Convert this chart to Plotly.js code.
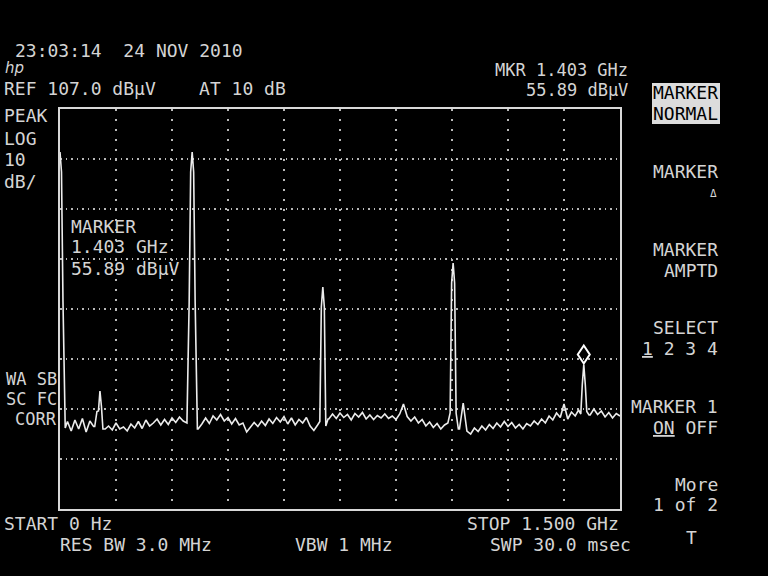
<!DOCTYPE html>
<html><head><meta charset="utf-8">
<script src="https://cdn.plot.ly/plotly-3.0.1.min.js"></script>
<style>html,body{margin:0;padding:0;background:#000;} #chart{width:768px;height:576px;}</style>
</head><body><div id="chart"></div>
<script>
// ---- sweep settings ----
const startGHz = 0.0;
const stopGHz = 1.5;
const refLevel = 107.0;
const dbPerDiv = 10;
const vertDivs = 8;
const horzDivs = 10;
const noiseStepMHz = 10;
// noise floor read every 10 MHz (dBuV)
const noiseLevels = [
  44.0, 43.2, 44.5, 42.6, 44.8, 43.0, 45.1, 42.4, 44.6, 43.5,
  46.5, 47.5, 43.0,
  43.6, 42.8, 44.2, 43.0, 43.4, 42.6, 44.0, 43.2, 44.5, 43.1, 44.8, 43.6, 44.2, 45.0, 43.8, 44.9, 43.9, 45.2, 44.3, 45.4, 44.6,
  44.2, 44.5, 43.9, 43.0,
  44.0, 45.2, 44.1, 45.6, 44.8, 45.9, 44.6, 45.3, 44.0, 45.1, 43.8, 44.2, 42.4, 43.4, 44.3, 43.5,
  44.6, 43.7, 45.0, 44.1, 45.3, 44.4, 45.5, 44.0, 45.2, 43.8, 44.9, 44.2, 45.3, 43.6, 42.7, 43.8,
  44.5, 43.6,
  45.0, 46.0, 45.1, 46.2, 45.3, 45.9, 44.8, 46.1, 45.4, 46.3, 45.0, 45.8, 44.9, 45.7, 45.2, 46.0, 45.1, 45.6, 44.9,
  46.0, 48.0, 45.5, 44.6, 45.4, 44.2, 44.9, 43.6, 44.4, 43.3, 44.1, 43.0, 43.8, 44.2,
  44.0,
  42.4, 43.0, 48.2, 42.6, 42.0,
  43.2, 42.5, 43.6, 42.8, 43.9, 43.1, 44.2, 43.4, 44.5, 43.5, 44.3, 43.2, 43.9, 43.0, 44.1, 43.6, 44.6, 43.9, 45.0, 44.2,
  45.6, 44.8, 46.2, 45.3, 48.0, 45.0, 46.4, 45.6, 46.8,
  46.0,
  46.5, 45.8, 47.0, 45.9, 46.6, 45.4, 46.3, 45.2, 46.1, 45.6
];
// signals (GHz, dBuV)
const peakFreqGHz = [0.000, 0.107, 0.354, 0.704, 1.053, 1.403];
const peakLevels  = [98.4, 50.6, 98.4, 71.4, 76.2, 55.89];
// filter skirt shape (offset MHz, drop dB)
const skirtOffsetMHz = [-14, -8, -4, 0, 4, 8, 14];
const skirtDropDb    = [60, 30, 4, 0, 4, 30, 60];
// marker
const markerFreqGHz = [1.403];
const markerLevel = [55.89];

// ---- build trace ----
const pts = [];
noiseLevels.forEach((v, i) => {
  const f = startGHz * 1000 + i * noiseStepMHz;
  if (peakFreqGHz.some(p => Math.abs(p * 1000 - f) <= 14)) return;
  pts.push([f, v]);
});
peakFreqGHz.forEach((p, k) => {
  const fp = p * 1000;
  skirtOffsetMHz.forEach((o, j) => {
    const f = fp + o;
    if (f < startGHz * 1000 || f > stopGHz * 1000) return;
    const ni = Math.min(noiseLevels.length - 1, Math.max(0, Math.round(f / noiseStepMHz)));
    pts.push([f, Math.max(peakLevels[k] - skirtDropDb[j], noiseLevels[ni])]);
  });
});
pts.sort((a, b) => a[0] - b[0]);
const traceX = pts.map(p => p[0] / 1000);
const traceY = pts.map(p => p[1]);

const bottomLevel = refLevel - dbPerDiv * vertDivs;
const FG = '#d4d4d4';
const FONT = 'DejaVu Sans Mono';

// pixel -> paper helpers for screen annotations
const L = 60, R = 620, TOP = 109, BOT = 509;
const px = x => (x - L) / (R - L);
const py = y => (BOT - y) / (BOT - TOP);
function T(text, x, y, anchor, extra) {
  return Object.assign({
    xref: 'paper', yref: 'paper', x: px(x), y: py(y),
    xanchor: anchor, yanchor: 'middle', text: text, showarrow: false,
    font: { family: FONT, size: 18, color: FG }
  }, extra || {});
}
const F17 = { font: { family: FONT, size: 17, color: FG } };

const mkF = markerFreqGHz[0].toFixed(3) + ' GHz';
const mkL = markerLevel[0].toFixed(2) + ' dBµV';

const annotations = [
  T('23:03:14  24 NOV 2010', 13, 50, 'left'),
  T('<i>hp</i>', 3, 68, 'left', { font: { family: 'DejaVu Sans', size: 15, color: FG } }),
  T('REF ' + refLevel.toFixed(1) + ' dBµV    AT 10 dB', 2, 89, 'left'),
  T('MKR ' + mkF, 630, 70, 'right', F17),
  T(mkL, 630, 90, 'right', F17),
  T('MARKER', 720, 93, 'right', { font: { family: FONT, size: 18, color: '#000' } }),
  T('NORMAL', 720, 114, 'right', { font: { family: FONT, size: 18, color: '#000' } }),
  T('PEAK', 2, 116, 'left'),
  T('LOG', 2, 138, 'left'),
  T(String(dbPerDiv), 2, 160, 'left'),
  T('dB/', 2, 181, 'left'),
  T('WA SB', 59, 379, 'right', F17),
  T('SC FC', 59, 399, 'right', F17),
  T('CORR', 59, 419, 'right', F17),
  T('MARKER', 69, 226, 'left'),
  T(mkF, 69, 246, 'left'),
  T(mkL, 69, 268, 'left'),
  T('MARKER', 720, 171, 'right'),
  T('Δ', 719, 193, 'right', { font: { family: FONT, size: 11, color: FG } }),
  T('MARKER', 720, 249, 'right'),
  T('AMPTD', 720, 270, 'right'),
  T('SELECT', 720, 327, 'right'),
  T('<u>1</u> 2 3 4', 720, 348, 'right'),
  T('MARKER 1', 720, 406, 'right'),
  T('<u>ON</u> OFF', 720, 427, 'right'),
  T('More', 720, 484, 'right'),
  T('1 of 2', 720, 504, 'right'),
  T('START 0 Hz', 2, 523, 'left'),
  T('STOP ' + stopGHz.toFixed(3) + ' GHz', 621, 523, 'right'),
  T('RES BW 3.0 MHz', 58, 544, 'left'),
  T('VBW 1 MHz', 293, 544, 'left'),
  T('SWP 30.0 msec', 633, 544, 'right'),
  T('T', 691, 537, 'center')
];

const shapes = [
  // black readout area (hides graticule only)
  { type: 'rect', xref: 'paper', yref: 'paper', x0: px(63), x1: px(336), y0: py(290), y1: py(211),
    fillcolor: '#000', line: { width: 0 }, layer: 'between' },
  // inverted softkey
  { type: 'rect', xref: 'paper', yref: 'paper', x0: px(652), x1: px(720), y0: py(124), y1: py(83),
    fillcolor: '#dcdcdc', line: { width: 0 }, layer: 'above' },
  // marker diamond sitting on the trace
  { type: 'path', xref: 'x', yref: 'y', xsizemode: 'pixel', ysizemode: 'pixel',
    xanchor: markerFreqGHz[0], yanchor: markerLevel[0],
    path: 'M0,1 L6,10 L0,19 L-6,10 Z', line: { color: '#ffffff', width: 2 }, fillcolor: 'rgba(0,0,0,0)', layer: 'above' }
];

const data = [{
  type: 'scatter', mode: 'lines', x: traceX, y: traceY,
  line: { color: '#ececec', width: 1.6, shape: 'linear' }, hoverinfo: 'skip'
}];

const layout = {
  width: 768, height: 576,
  paper_bgcolor: '#000', plot_bgcolor: '#000',
  margin: { l: L, r: 768 - R, t: TOP, b: 576 - BOT, pad: 0 },
  showlegend: false,
  xaxis: {
    range: [startGHz, stopGHz], tick0: startGHz, dtick: (stopGHz - startGHz) / horzDivs,
    showticklabels: false, ticks: '', showgrid: true, gridcolor: '#b8b8b8', gridwidth: 1.5,
    griddash: '1.5px,8.5px', zeroline: false, showline: true, mirror: true,
    linecolor: '#d8d8d8', linewidth: 2, fixedrange: true
  },
  yaxis: {
    range: [bottomLevel, refLevel], tick0: bottomLevel, dtick: dbPerDiv,
    showticklabels: false, ticks: '', showgrid: true, gridcolor: '#b8b8b8', gridwidth: 1.5,
    griddash: '1.5px,4px', zeroline: false, showline: true, mirror: true,
    linecolor: '#d8d8d8', linewidth: 2, fixedrange: true
  },
  annotations: annotations,
  shapes: shapes
};

Plotly.newPlot('chart', data, layout, { staticPlot: true, displayModeBar: false });
</script></body></html>
